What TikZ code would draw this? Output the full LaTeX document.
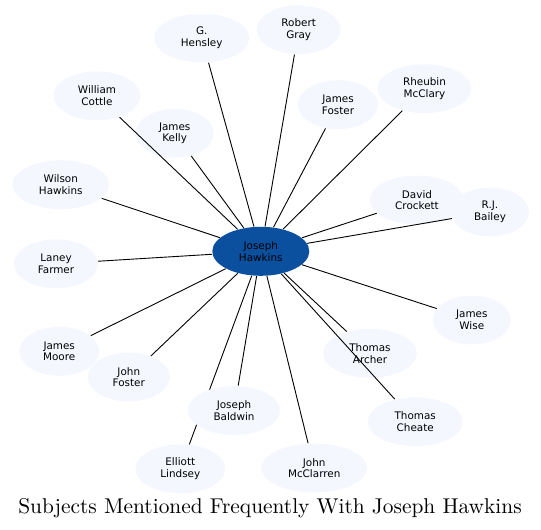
\documentclass[tikz,border=0pt]{standalone}
\usepackage{fontspec}
\usepackage{xcolor}
\usepackage{tikz}
\usetikzlibrary{positioning}
\usetikzlibrary{shapes.geometric}
\newfontfamily\labelfont{DejaVu Sans}
\newfontfamily\titlefont{lmroman10-regular}[Extension=.otf]
\definecolor{nodefill}{RGB}{244,248,254}
\definecolor{hubfill}{RGB}{10,80,158}

\begin{document}
\begin{tikzpicture}[x=1pt,y=-1pt,line width=0.9pt,
  person/.style={ellipse,fill=nodefill,inner sep=0pt,minimum height=49pt,align=center,
    font=\labelfont\fontsize{10.4}{11.7}\selectfont},
  hub/.style={person,fill=hubfill}]
\useasboundingbox (0,0) rectangle (541,530);

\node[hub,minimum width=97pt]     (hawkins)   at (260.8,251.3) {Joseph\\Hawkins};
\node[person,minimum width=90pt]  (lindsey)   at (180.3,468.8) {Elliott\\Lindsey};
\path (hawkins) edge (lindsey);

\node[person,minimum width=95pt]  (hensley)   at (201.7,38)    {G.\\Hensley};
\node[person,minimum width=84pt]  (gray)      at (298.7,29.7)  {Robert\\Gray};
\node[person,minimum width=87pt]  (cottle)    at (97,95.8)     {William\\Cottle};
\node[person,minimum width=78pt]  (kelly)     at (174.7,133.3) {James\\Kelly};
\node[person,minimum width=80pt]  (jfoster)   at (338,104.7)   {James\\Foster};
\node[person,minimum width=94pt]  (mcclary)   at (424.5,88.7)  {Rheubin\\McClary};
\node[person,minimum width=97pt]  (whawkins)  at (60.8,184.7)  {Wilson\\Hawkins};
\node[person,minimum width=94pt]  (crockett)  at (417,200)     {David\\Crockett};
\node[person,minimum width=78pt]  (bailey)    at (490,212)     {R.J.\\Bailey};
\node[person,minimum width=84pt]  (farmer)    at (56,263.8)    {Laney\\Farmer};
\node[person,minimum width=78pt]  (wise)      at (471.8,320)   {James\\Wise};
\node[person,minimum width=80pt]  (moore)     at (59.2,351.3)  {James\\Moore};
\node[person,minimum width=82pt]  (johnfoster) at (128.8,377)  {John\\Foster};
\node[person,minimum width=94pt]  (archer)    at (370,353.3)   {Thomas\\Archer};
\node[person,minimum width=92pt]  (baldwin)   at (234,410.5)   {Joseph\\Baldwin};
\node[person,minimum width=95pt]  (cheate)    at (415.2,421.7) {Thomas\\Cheate};
\node[person,minimum width=106pt] (mcclarren) at (314.2,468)   {John\\McClarren};

\path (hawkins) edge (hensley)
                edge (gray)
                edge (cottle)
                edge (kelly)
                edge (jfoster)
                edge (mcclary)
                edge (whawkins)
                edge (crockett)
                edge (bailey)
                edge (farmer)
                edge (wise)
                edge (moore)
                edge (johnfoster)
                edge (archer)
                edge (baldwin)
                edge (cheate)
                edge (mcclarren);

\node[anchor=base,font=\titlefont\fontsize{21.4}{24}\selectfont] (title) at (270,513.3)
  {Subjects Mentioned Frequently With Joseph Hawkins};
\end{tikzpicture}
\end{document}
